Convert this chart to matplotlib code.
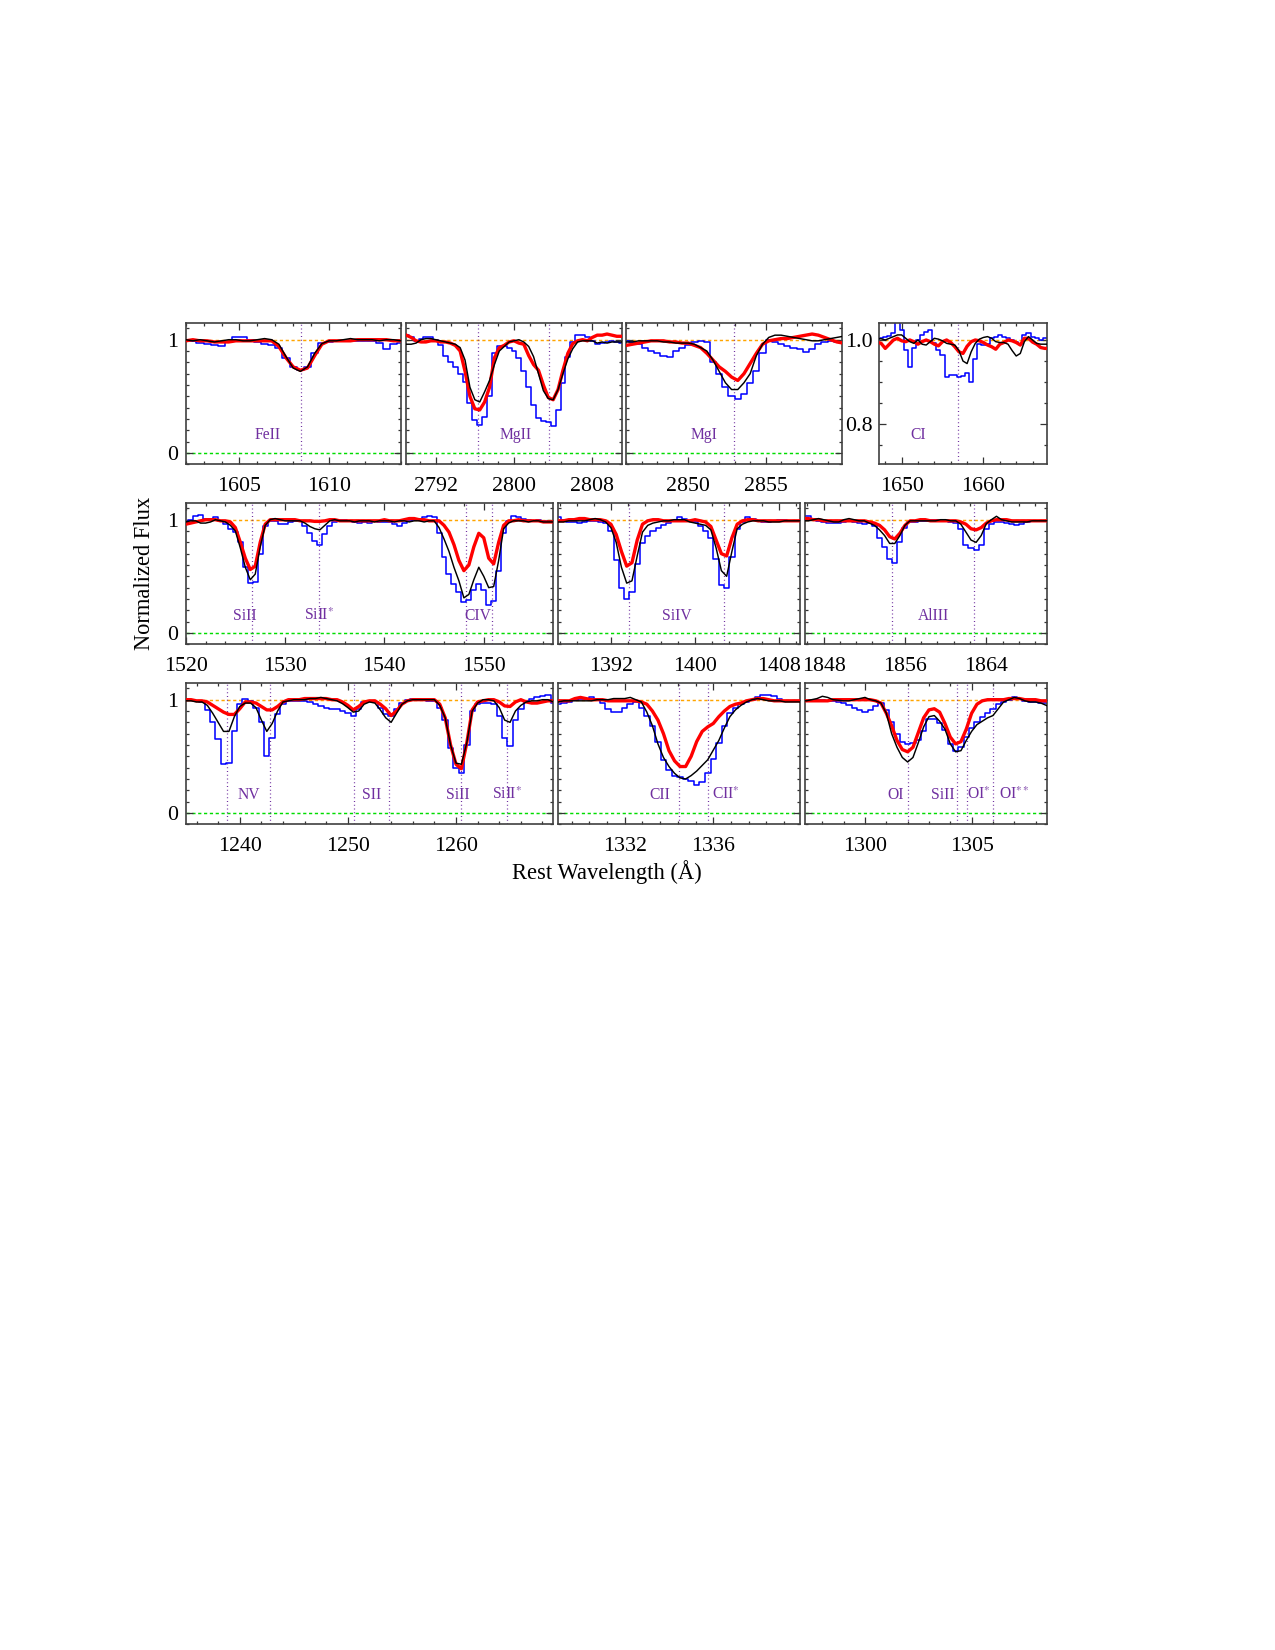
import numpy as np
import matplotlib
matplotlib.use("Agg")
import matplotlib.pyplot as plt
from matplotlib.ticker import MultipleLocator, FixedLocator, NullFormatter, FormatStrFormatter

plt.rcParams["font.family"] = ["Liberation Serif", "DejaVu Serif"]
plt.rcParams["mathtext.fontset"] = "stix"

# =========================
# DATA (normalized flux)
# =========================
# --- FeII 1608 ---
FEII_WAVE = np.arange(1602.0, 1614.2, 0.4)
FEII_BLACK = [1.00, 0.99, 1.00, 0.99, 0.98, 0.99, 1.00, 1.00, 0.99, 0.99,
              1.00, 1.01, 1.00, 0.96, 0.85, 0.75, 0.72, 0.76, 0.88, 0.965,
              0.99, 0.99, 1.00, 1.01, 1.00, 1.00, 1.00, 0.99, 1.00, 1.00,
              0.99]
FEII_RED = [0.99, 1.00, 0.99, 0.99, 0.98, 0.98, 0.98, 0.99, 0.99, 0.99,
            0.99, 0.99, 0.99, 0.94, 0.84, 0.76, 0.73, 0.75, 0.86, 0.96,
            0.99, 0.99, 0.99, 0.99, 1.00, 1.00, 1.00, 1.00, 1.00, 0.99,
            0.99]
FEII_BLUE = [0.99, 0.99, 0.97, 0.96, 0.95, 0.94, 0.98, 1.02, 1.02, 1.00,
             0.98, 0.96, 0.955, 0.93, 0.84, 0.76, 0.73, 0.76, 0.88, 0.97,
             0.98, 0.99, 0.99, 0.99, 0.99, 0.99, 0.99, 0.97, 0.92, 0.96,
             0.97]

# --- MgII 2796/2803 ---
MGII_WAVE = np.arange(2789.0, 2811.25, 0.5)
MGII_BLACK = [0.96, 0.96, 0.97, 1.00, 1.01, 1.01, 1.00, 0.99, 0.98, 0.97,
              0.96, 0.93, 0.82, 0.58, 0.47, 0.45, 0.54, 0.64, 0.78, 0.90,
              0.94, 0.98, 0.99, 1.00, 0.98, 0.94, 0.85, 0.70, 0.55, 0.48,
              0.47, 0.56, 0.70, 0.83, 0.92, 0.98, 0.99, 0.99, 0.99, 0.97,
              0.98, 0.97, 0.98, 0.98, 0.98]
MGII_RED = [1.04, 1.02, 0.99, 0.98, 0.98, 0.99, 0.99, 0.98, 0.98, 0.97,
            0.95, 0.90, 0.72, 0.50, 0.39, 0.38, 0.45, 0.58, 0.84, 0.93,
            0.95, 0.98, 0.99, 0.97, 0.96, 0.86, 0.78, 0.73, 0.60, 0.49,
            0.47, 0.56, 0.73, 0.88, 0.965, 0.99, 1.00, 0.99, 1.02, 1.04,
            1.04, 1.05, 1.04, 1.03, 1.03]
MGII_BLUE = [1.04, 1.02, 0.99, 1.01, 1.02, 1.02, 1.00, 0.95, 0.86, 0.80,
             0.76, 0.70, 0.63, 0.44, 0.29, 0.25, 0.32, 0.50, 0.88, 0.94,
             0.94, 0.93, 0.90, 0.84, 0.72, 0.58, 0.42, 0.31, 0.28, 0.27,
             0.24, 0.38, 0.62, 0.85, 0.98, 1.04, 1.04, 1.02, 0.99, 0.96,
             0.97, 0.98, 0.99, 0.98, 0.97]

# --- MgI 2853 ---
MGI_WAVE = np.arange(2846.0, 2860.2, 0.4)
MGI_BLACK = [0.98, 0.98, 0.99, 0.99, 0.99, 0.99, 0.98, 0.98, 0.97, 0.97,
             0.97, 0.96, 0.93, 0.90, 0.82, 0.72, 0.62, 0.56, 0.56, 0.62,
             0.70, 0.86, 0.96, 1.02, 1.04, 1.04, 1.03, 1.02, 1.01, 1.00,
             0.99, 0.99, 1.00, 1.01, 1.02, 1.03]
MGI_RED = [0.95, 0.96, 0.97, 0.98, 0.99, 0.99, 0.99, 0.98, 0.98, 0.97,
           0.97, 0.95, 0.93, 0.88, 0.82, 0.76, 0.72, 0.67, 0.64, 0.70,
           0.79, 0.88, 0.96, 0.99, 1.00, 1.01, 1.01, 1.02, 1.03, 1.04,
           1.05, 1.04, 1.02, 1.00, 0.98, 0.97]
MGI_BLUE = [0.99, 0.98, 0.96, 0.93, 0.90, 0.88, 0.86, 0.85, 0.90, 0.93,
            0.95, 0.98, 0.99, 0.98, 0.80, 0.70, 0.58, 0.50, 0.48, 0.52,
            0.62, 0.72, 0.88, 1.00, 0.98, 0.96, 0.94, 0.93, 0.92, 0.89,
            0.92, 0.96, 0.98, 0.99, 0.98, 0.97]

# --- CI 1657 ---
CI_WAVE = np.arange(1647.0, 1668.25, 0.5)
CI_BLACK = [1.003, 1.003, 1.000, 1.004, 1.008, 1.012, 1.012, 1.004, 0.996, 0.992,
            1.000, 0.990, 0.988, 0.996, 1.004, 1.002, 0.998, 0.992, 0.990, 0.988,
            0.975, 0.950, 0.944, 0.972, 0.992, 1.002, 1.006, 1.008, 1.004, 0.996,
            0.994, 0.994, 0.990, 0.975, 0.962, 0.968, 0.996, 1.008, 1.000, 0.992,
            0.990, 0.990, 0.990]
CI_RED = [0.995, 0.992, 0.980, 0.990, 1.000, 1.004, 0.998, 0.996, 1.000, 0.996,
          0.990, 0.996, 1.000, 0.996, 0.990, 0.986, 0.996, 1.000, 0.994, 0.984,
          0.972, 0.968, 0.985, 0.996, 1.000, 0.998, 0.994, 0.988, 0.984, 0.978,
          0.990, 0.994, 1.000, 0.998, 0.994, 0.988, 1.004, 1.004, 0.995, 0.990,
          0.982, 0.980, 0.980]
CI_BLUE = [1.000, 1.004, 1.008, 1.010, 1.016, 1.060, 1.024, 0.976, 0.937, 0.980,
           1.000, 1.012, 1.020, 1.024, 0.992, 0.976, 0.964, 0.913, 0.916, 0.918,
           0.913, 0.915, 0.921, 0.901, 0.955, 0.990, 0.988, 0.990, 1.004, 1.008,
           1.012, 1.008, 1.004, 1.000, 0.996, 0.990, 1.012, 1.016, 1.008, 1.004,
           1.000, 1.004, 1.004]

# --- SiII 1526 / SiII* 1533 / CIV 1548,1550 ---
CIV_WAVE = np.arange(1520.0, 1557.25, 0.5)
CIV_BLACK = [0.98, 0.99, 0.99, 0.97, 0.97, 0.98, 1.00, 0.99, 0.98, 0.95,
             0.90, 0.75, 0.58, 0.47, 0.52, 0.76, 0.95, 1.00, 1.01, 1.00,
             0.99, 0.99, 0.99, 0.99, 0.97, 0.94, 0.92, 0.91, 0.95, 0.99,
             1.00, 0.99, 0.99, 0.99, 0.98, 0.99, 0.99, 0.99, 0.98, 0.99,
             0.99, 0.99, 0.98, 0.99, 0.99, 0.98, 0.99, 0.99, 0.98, 0.99,
             0.99, 0.93, 0.83, 0.72, 0.58, 0.46, 0.31, 0.34, 0.47, 0.58,
             0.50, 0.40, 0.41, 0.64, 0.92, 0.97, 0.99, 0.99, 0.99, 0.98,
             0.99, 0.99, 0.98, 0.98, 0.98]
CIV_RED = [0.96, 0.97, 0.98, 0.99, 1.00, 1.00, 1.00, 0.99, 0.99, 0.98,
           0.93, 0.80, 0.66, 0.56, 0.59, 0.80, 0.96, 1.00, 1.00, 1.00,
           1.00, 1.00, 1.00, 0.99, 0.99, 0.99, 0.985, 0.985, 0.99, 1.00,
           1.00, 0.99, 0.99, 0.99, 0.99, 0.99, 0.99, 0.99, 0.99, 0.99,
           1.00, 0.99, 0.99, 0.99, 1.00, 1.01, 1.01, 1.00, 1.00, 0.99,
           0.99, 0.99, 0.95, 0.89, 0.78, 0.64, 0.55, 0.60, 0.76, 0.88,
           0.84, 0.66, 0.61, 0.80, 0.95, 0.99, 0.99, 1.00, 0.99, 0.99,
           0.99, 0.99, 0.98, 0.98, 0.98]
CIV_BLUE = [0.98, 1.00, 1.03, 1.04, 1.01, 1.01, 1.02, 0.99, 0.96, 0.92,
            0.89, 0.80, 0.58, 0.44, 0.45, 0.70, 0.94, 0.99, 0.99, 0.96,
            0.96, 0.98, 0.99, 0.99, 0.94, 0.88, 0.81, 0.78, 0.87, 0.94,
            0.98, 1.00, 1.00, 0.99, 0.98, 0.97, 0.98, 0.97, 0.99, 0.98,
            0.98, 0.98, 0.96, 0.94, 0.97, 0.99, 1.00, 1.01, 1.02, 1.03,
            1.02, 0.88, 0.67, 0.52, 0.43, 0.36, 0.27, 0.29, 0.38, 0.43,
            0.38, 0.25, 0.28, 0.55, 0.88, 0.99, 1.03, 1.02, 1.01, 1.00,
            0.99, 1.00, 0.99, 0.98, 0.98]

# --- SiIV 1393/1402 ---
SIIV_WAVE = np.arange(1387.0, 1410.25, 0.5)
SIIV_BLACK = [0.98, 0.98, 0.99, 0.99, 0.99, 0.99, 1.00, 1.01, 1.00, 0.98,
              0.93, 0.80, 0.58, 0.44, 0.46, 0.68, 0.89, 0.95, 0.97, 0.98,
              0.99, 0.99, 1.00, 1.00, 1.00, 0.98, 0.97, 0.96, 0.95, 0.91,
              0.75, 0.55, 0.50, 0.72, 0.92, 0.96, 0.98, 0.99, 0.99, 0.99,
              0.98, 0.98, 0.98, 0.99, 0.99, 0.99, 0.99]
SIIV_RED = [0.99, 0.99, 1.00, 1.00, 1.01, 1.01, 1.00, 1.00, 1.00, 0.99,
            0.96, 0.87, 0.72, 0.59, 0.62, 0.82, 0.96, 0.99, 1.00, 1.00,
            0.99, 0.99, 0.99, 0.99, 0.99, 0.99, 1.00, 0.99, 0.98, 0.94,
            0.82, 0.70, 0.68, 0.84, 0.96, 0.99, 1.00, 1.00, 0.99, 0.99,
            0.99, 0.99, 0.99, 0.99, 0.99, 0.99, 0.99]
SIIV_BLUE = [1.02, 1.00, 0.98, 0.98, 0.97, 0.98, 0.99, 0.99, 0.98, 0.97,
             0.90, 0.64, 0.40, 0.30, 0.36, 0.61, 0.79, 0.86, 0.90, 0.93,
             0.95, 0.97, 0.99, 1.02, 1.01, 0.99, 0.98, 0.94, 0.90, 0.84,
             0.65, 0.42, 0.40, 0.67, 0.92, 0.98, 1.02, 1.01, 0.99, 0.98,
             0.98, 0.99, 1.00, 1.00, 0.99, 0.99, 0.99]

# --- AlIII 1854/1862 ---
ALIII_WAVE = np.arange(1846.0, 1870.25, 0.5)
ALIII_BLACK = [0.99, 0.99, 1.00, 1.01, 1.00, 0.99, 0.98, 0.98, 1.00, 1.01,
               1.00, 0.99, 0.99, 0.97, 0.95, 0.91, 0.86, 0.79, 0.79, 0.86,
               0.95, 0.99, 0.99, 0.99, 0.99, 0.99, 0.99, 1.00, 1.00, 0.99,
               0.99, 0.96, 0.89, 0.82, 0.80, 0.86, 0.965, 1.00, 1.03, 1.00,
               0.99, 0.98, 0.98, 0.98, 0.98, 0.99, 0.99, 0.99, 0.99]
ALIII_RED = [1.01, 1.01, 1.00, 1.00, 0.99, 0.99, 0.99, 0.99, 0.99, 0.99,
             0.99, 0.99, 0.99, 0.98, 0.97, 0.95, 0.91, 0.85, 0.83, 0.88,
             0.95, 0.99, 0.99, 1.00, 1.00, 0.99, 0.99, 0.99, 0.99, 0.99,
             0.99, 0.98, 0.96, 0.92, 0.91, 0.93, 0.97, 0.99, 1.00, 1.00,
             1.00, 0.99, 0.99, 0.99, 0.99, 0.99, 0.99, 0.99, 0.99]
ALIII_BLUE = [1.03, 1.03, 1.01, 0.99, 0.98, 0.97, 0.97, 0.97, 0.98, 0.99,
              0.98, 0.97, 0.96, 0.97, 0.94, 0.84, 0.76, 0.65, 0.62, 0.80,
              0.93, 0.98, 0.98, 0.99, 0.99, 1.00, 1.00, 0.99, 0.99, 0.98,
              0.97, 0.92, 0.78, 0.75, 0.73, 0.78, 0.92, 0.96, 0.98, 0.98,
              0.97, 0.96, 0.95, 0.96, 0.98, 0.99, 0.99, 0.99, 0.99]

# --- NV / SII / SiII 1260 / SiII* 1265 ---
NV_WAVE = np.arange(1235.0, 1269.25, 0.5)
NV_BLACK = [0.99, 0.99, 0.98, 0.98, 0.95, 0.88, 0.80, 0.72, 0.72, 0.85,
            0.94, 0.97, 0.97, 0.93, 0.82, 0.72, 0.79, 0.90, 0.98, 0.99,
            1.00, 1.00, 1.00, 1.01, 1.01, 1.02, 1.01, 1.00, 0.99, 0.965,
            0.93, 0.89, 0.90, 0.96, 0.98, 0.97, 0.91, 0.84, 0.80, 0.88,
            0.96, 0.99, 1.00, 1.00, 1.00, 1.00, 1.00, 0.95, 0.84, 0.60,
            0.44, 0.43, 0.62, 0.90, 0.97, 1.00, 1.00, 0.99, 0.93, 0.82,
            0.80, 0.90, 0.95, 0.98, 0.99, 0.99, 1.00, 1.00, 0.98]
NV_RED = [1.00, 1.00, 0.99, 0.99, 0.98, 0.95, 0.92, 0.89, 0.87, 0.87,
          0.92, 0.98, 0.98, 0.97, 0.94, 0.91, 0.91, 0.94, 0.98, 1.00,
          1.00, 1.00, 1.01, 1.01, 1.01, 1.01, 1.01, 1.00, 1.00, 0.98,
          0.95, 0.91, 0.94, 0.98, 0.99, 0.99, 0.96, 0.92, 0.86, 0.90,
          0.96, 0.99, 1.00, 1.00, 1.00, 1.00, 1.00, 0.96, 0.84, 0.60,
          0.43, 0.39, 0.62, 0.91, 0.98, 0.99, 1.00, 1.00, 0.98, 0.945,
          0.94, 0.98, 1.00, 0.98, 0.97, 0.97, 0.98, 0.99, 0.99]
NV_BLUE = [1.00, 1.00, 0.99, 0.98, 0.91, 0.80, 0.65, 0.43, 0.44, 0.72,
           0.96, 1.01, 0.99, 0.93, 0.80, 0.50, 0.66, 0.87, 0.96, 0.99,
           0.99, 0.99, 0.99, 0.98, 0.96, 0.94, 0.93, 0.92, 0.92, 0.90,
           0.88, 0.86, 0.92, 0.98, 0.99, 0.98, 0.93, 0.87, 0.86, 0.92,
           0.97, 1.00, 1.01, 1.01, 1.00, 0.99, 0.99, 0.93, 0.82, 0.57,
           0.40, 0.35, 0.60, 0.90, 0.96, 0.97, 0.97, 0.96, 0.86, 0.66,
           0.59, 0.82, 0.92, 0.99, 1.01, 1.02, 1.03, 1.04, 0.97]

# --- CII 1334 / CII* 1335 ---
CII_WAVE = np.arange(1329.0, 1340.1, 0.25)
CII_BLACK = [0.98, 0.99, 0.99, 0.99, 0.99, 0.99, 0.99, 1.00, 1.00, 1.00,
             1.01, 1.01, 1.01, 1.02, 1.00, 0.98, 0.89, 0.77, 0.61, 0.49,
             0.41, 0.35, 0.31, 0.30, 0.33, 0.37, 0.42, 0.47, 0.555, 0.64,
             0.75, 0.85, 0.91, 0.95, 0.98, 1.00, 1.01, 1.00, 0.99, 0.99,
             0.99, 0.98, 0.98, 0.98, 0.98]
CII_RED = [0.99, 0.99, 0.99, 1.01, 1.02, 1.01, 1.00, 1.00, 1.00, 0.99,
           0.99, 0.99, 0.99, 0.99, 0.99, 0.98, 0.96, 0.90, 0.82, 0.70,
           0.55, 0.46, 0.41, 0.41, 0.50, 0.63, 0.72, 0.76, 0.79, 0.85,
           0.90, 0.94, 0.96, 0.97, 0.99, 1.00, 1.01, 1.01, 1.00, 0.99,
           0.99, 0.99, 0.99, 0.99, 0.99]
CII_BLUE = [0.965, 0.97, 0.98, 1.00, 1.01, 1.01, 1.02, 1.01, 0.97, 0.92,
            0.89, 0.89, 0.93, 0.96, 0.98, 0.93, 0.86, 0.77, 0.63, 0.47,
            0.38, 0.33, 0.32, 0.30, 0.28, 0.25, 0.27, 0.35, 0.48, 0.62,
            0.77, 0.88, 0.93, 0.96, 0.98, 1.00, 1.02, 1.04, 1.04, 1.03,
            1.01, 0.99, 0.99, 0.99, 0.99]

# --- OI 1302 / SiII 1304 / OI* / OI** ---
OI_WAVE = np.arange(1297.0, 1308.85, 0.25)
OI_BLACK = [0.99, 0.99, 1.00, 1.01, 1.03, 1.02, 1.00, 0.995, 0.99, 0.99,
            1.00, 1.01, 1.02, 1.00, 0.99, 0.97, 0.88, 0.70, 0.58, 0.49,
            0.45, 0.49, 0.62, 0.76, 0.85, 0.86, 0.81, 0.74, 0.61, 0.54,
            0.55, 0.64, 0.72, 0.78, 0.81, 0.84, 0.86, 0.92, 0.98, 1.00,
            1.02, 1.01, 0.99, 0.98, 0.98, 0.97, 0.95, 0.93]
OI_RED = [0.99, 0.99, 0.99, 0.99, 0.99, 0.99, 1.00, 1.00, 1.00, 1.00,
          1.00, 1.00, 1.00, 1.00, 0.99, 0.97, 0.88, 0.77, 0.64, 0.56,
          0.54, 0.58, 0.71, 0.84, 0.91, 0.92, 0.89, 0.79, 0.67, 0.61,
          0.63, 0.74, 0.88, 0.96, 0.99, 1.00, 1.00, 1.00, 1.00, 1.01,
          1.01, 1.01, 1.00, 1.00, 1.00, 0.99, 0.99, 0.99]
OI_BLUE = [0.99, 0.99, 1.00, 1.00, 1.00, 0.99, 0.99, 0.98, 0.97, 0.95,
           0.93, 0.91, 0.89, 0.91, 0.94, 0.97, 0.91, 0.80, 0.70, 0.63,
           0.61, 0.62, 0.64, 0.72, 0.83, 0.83, 0.79, 0.73, 0.61, 0.55,
           0.58, 0.67, 0.75, 0.80, 0.85, 0.88, 0.92, 0.96, 0.98, 1.00,
           1.02, 1.01, 0.99, 0.98, 0.98, 0.97, 0.97, 0.96]

# line centres (dotted markers) and labels: (text, x, y)
FEII_LINES = [1608.45]
FEII_LABELS = [("FeII", 1606.6, 0.16)]
MGII_LINES = [2796.35, 2803.53]
MGII_LABELS = [("MgII", 2800.2, 0.16)]
MGI_LINES = [2852.96]
MGI_LABELS = [("MgI", 2851.0, 0.16)]
CI_LINES = [1656.93]
CI_LABELS = [("CI", 1652.0, 0.775)]
CIV_LINES = [1526.71, 1533.43, 1548.20, 1550.78]
CIV_LABELS = [("SiII", 1525.9, 0.15), ("SiII$^{*}$", 1533.4, 0.15),
              ("CIV", 1549.4, 0.15)]
SIIV_LINES = [1393.76, 1402.77]
SIIV_LABELS = [("SiIV", 1398.3, 0.15)]
ALIII_LINES = [1854.72, 1862.79]
ALIII_LABELS = [("AlIII", 1858.8, 0.15)]
NV_LINES = [1238.82, 1242.80, 1250.58, 1253.81, 1260.42, 1264.74]
NV_LABELS = [("NV", 1240.8, 0.16), ("SII", 1252.2, 0.16),
             ("SiII", 1260.2, 0.16), ("SiII$^{*}$", 1264.7, 0.16)]
CII_LINES = [1334.47, 1335.76]
CII_LABELS = [("CII", 1333.6, 0.16), ("CII$^{*}$", 1336.55, 0.16)]
OI_LINES = [1302.0, 1304.3, 1304.8, 1306.0]
OI_LABELS = [("OI", 1301.45, 0.16), ("SiII", 1303.65, 0.16),
             ("OI$^{*}$", 1305.35, 0.16), ("OI$^{**}$", 1307.0, 0.16)]

# =========================
# STYLE
# =========================
C_BLACK = "black"
C_RED = "#ff0000"
C_BLUE = "#0000ff"
C_ORANGE = "#ffa500"
C_GREEN = "#00dd00"
C_PURPLE = "#7030a0"

FIG_W, FIG_H = 1275, 1650


def rect(left, right, top, bottom):
    return [left / FIG_W, 1 - bottom / FIG_H, (right - left) / FIG_W, (bottom - top) / FIG_H]


ROW1 = (322.7, 464.3)
ROW2 = (502.7, 644.3)
ROW3 = (682.7, 824.3)

PANELS = [
    dict(pos=rect(185.7, 400.7, *ROW1), wave=FEII_WAVE, k=FEII_BLACK, r=FEII_RED, b=FEII_BLUE,
         xlim=(1602, 1614), xmaj=5, xmin=1, lines=FEII_LINES, labels=FEII_LABELS, ylab=True),
    dict(pos=rect(406.3, 621.7, *ROW1), wave=MGII_WAVE, k=MGII_BLACK, r=MGII_RED, b=MGII_BLUE,
         xlim=(2789, 2811), xmaj=8, xmin=1.6, lines=MGII_LINES, labels=MGII_LABELS, ylab=False),
    dict(pos=rect(626.3, 842.3, *ROW1), wave=MGI_WAVE, k=MGI_BLACK, r=MGI_RED, b=MGI_BLUE,
         xlim=(2846, 2859.95), xmaj=5, xmin=1, lines=MGI_LINES, labels=MGI_LABELS, ylab=False),
    dict(pos=rect(878.7, 1047.3, *ROW1), wave=CI_WAVE, k=CI_BLACK, r=CI_RED, b=CI_BLUE,
         xlim=(1647.2, 1667.8), xmaj=10, xmin=2, lines=CI_LINES, labels=CI_LABELS, ylab="ci"),
    dict(pos=rect(185.7, 553.3, *ROW2), wave=CIV_WAVE, k=CIV_BLACK, r=CIV_RED, b=CIV_BLUE,
         xlim=(1520, 1557), xmaj=10, xmin=2, lines=CIV_LINES, labels=CIV_LABELS, ylab=True),
    dict(pos=rect(558.3, 800.3, *ROW2), wave=SIIV_WAVE, k=SIIV_BLACK, r=SIIV_RED, b=SIIV_BLUE,
         xlim=(1387, 1410), xmaj=8, xmin=1.6, lines=SIIV_LINES, labels=SIIV_LABELS, ylab=False),
    dict(pos=rect(805.3, 1047.3, *ROW2), wave=ALIII_WAVE, k=ALIII_BLACK, r=ALIII_RED, b=ALIII_BLUE,
         xlim=(1846.2, 1870), xmaj=8, xmin=1.6, lines=ALIII_LINES, labels=ALIII_LABELS, ylab=False),
    dict(pos=rect(185.7, 553.3, *ROW3), wave=NV_WAVE, k=NV_BLACK, r=NV_RED, b=NV_BLUE,
         xlim=(1235, 1269), xmaj=10, xmin=2, lines=NV_LINES, labels=NV_LABELS, ylab=True),
    dict(pos=rect(558.3, 800.3, *ROW3), wave=CII_WAVE, k=CII_BLACK, r=CII_RED, b=CII_BLUE,
         xlim=(1329, 1339.93), xmaj=4, xmin=0.8, lines=CII_LINES, labels=CII_LABELS, ylab=False),
    dict(pos=rect(805.3, 1047.3, *ROW3), wave=OI_WAVE, k=OI_BLACK, r=OI_RED, b=OI_BLUE,
         xlim=(1297.2, 1308.55), xmaj=5, xmin=1, lines=OI_LINES, labels=OI_LABELS, ylab=False),
]

# =========================
# FIGURE
# =========================
fig = plt.figure(figsize=(FIG_W / 150, FIG_H / 150), dpi=150)

for p in PANELS:
    ax = fig.add_axes(p["pos"])
    ax.axhline(1.0, color=C_ORANGE, lw=0.7, dashes=(2.2, 1.8), zorder=1)
    ax.axhline(0.0, color=C_GREEN, lw=0.7, dashes=(2.2, 1.8), zorder=1)
    for xl in p["lines"]:
        ax.axvline(xl, color=C_PURPLE, lw=0.6, dashes=(0.8, 2.2), zorder=1)
    ax.plot(p["wave"], p["b"], color=C_BLUE, lw=0.75, drawstyle="steps-mid", zorder=2)
    ax.plot(p["wave"], p["r"], color=C_RED, lw=1.6, zorder=3)
    ax.plot(p["wave"], p["k"], color=C_BLACK, lw=0.7, zorder=4)

    ci = p["ylab"] == "ci"
    for txt, tx, ty in p["labels"]:
        ax.text(tx, ty, txt, color=C_PURPLE, fontsize=7.5, ha="center", va="center", zorder=5)

    ax.set_xlim(*p["xlim"])
    ax.xaxis.set_major_locator(MultipleLocator(p["xmaj"]))
    ax.xaxis.set_minor_locator(MultipleLocator(p["xmin"]))
    if ci:
        ax.set_ylim(0.705, 1.041)
        ax.yaxis.set_major_locator(FixedLocator([0.8, 1.0]))
        ax.yaxis.set_minor_locator(MultipleLocator(0.05))
        ax.yaxis.set_major_formatter(FormatStrFormatter("%.1f"))
    else:
        ax.set_ylim(-0.1, 1.15)
        ax.yaxis.set_major_locator(FixedLocator([0, 1]))
        ax.yaxis.set_minor_locator(MultipleLocator(0.1))
        if not p["ylab"]:
            ax.yaxis.set_major_formatter(NullFormatter())

    ax.tick_params(which="both", direction="in", top=True, right=True, width=0.6,
                   colors="0.2", labelcolor="black", labelsize=10.5)
    ax.tick_params(which="major", length=3.2)
    ax.tick_params(which="minor", length=1.6)
    ax.tick_params(axis="x", pad=6)
    ax.tick_params(axis="y", pad=3.0 if ci else 3.5)
    for sp in ax.spines.values():
        sp.set_linewidth(0.8)
        sp.set_color("0.25")

fig.text(145 / FIG_W, 1 - 573 / FIG_H, "Normalized Flux", rotation=90,
         ha="center", va="center", fontsize=10.8)
fig.text(606.7 / FIG_W, 1 - 872 / FIG_H, "Rest Wavelength (Å)",
         ha="center", va="center", fontsize=10.8)

fig.savefig("out.png", dpi=150)
